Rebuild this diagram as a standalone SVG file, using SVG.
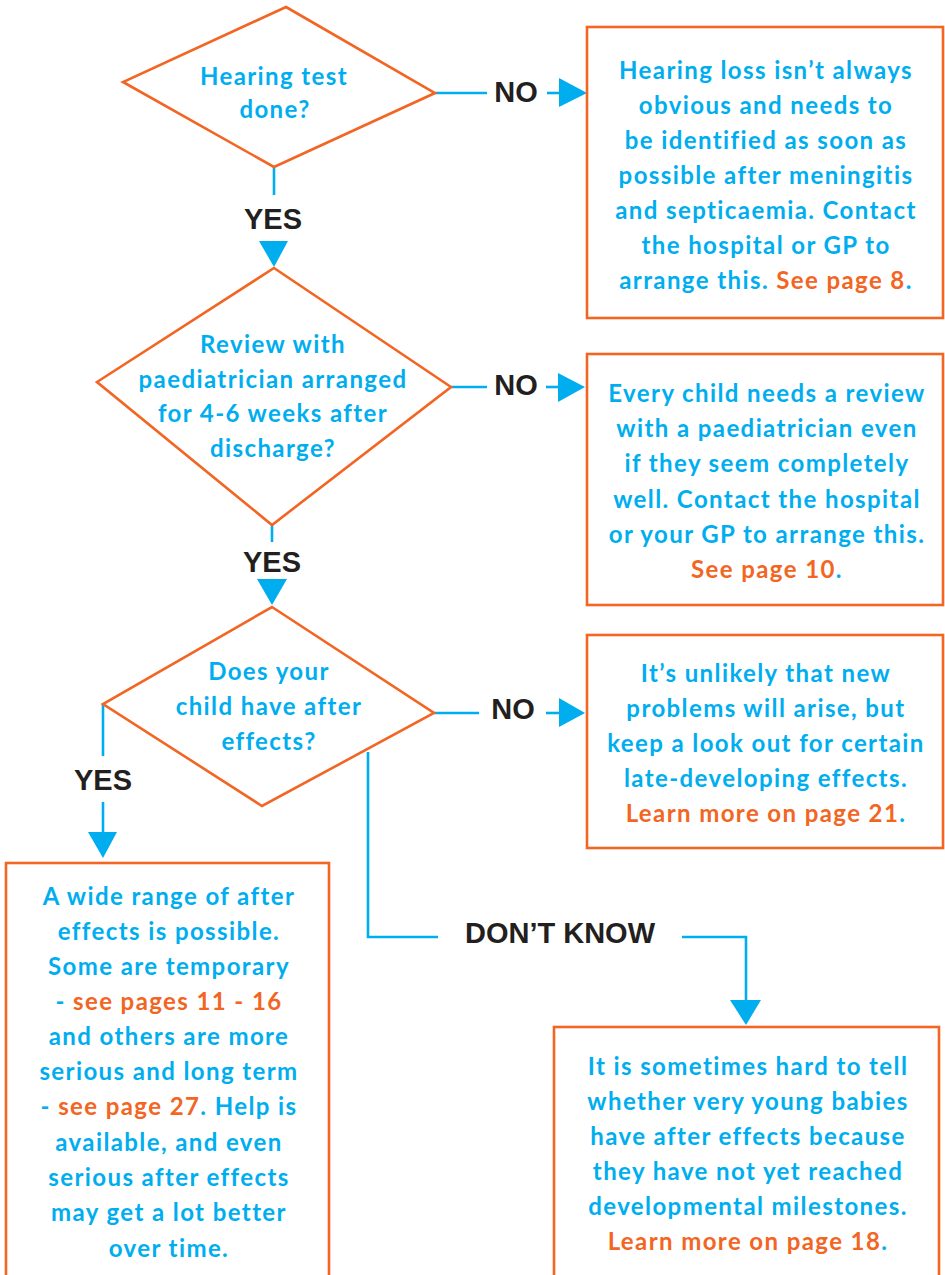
<svg xmlns="http://www.w3.org/2000/svg" width="945" height="1275" viewBox="0 0 945 1275">
<style>
.shape{fill:#fff;stroke:#F26522;stroke-width:2.6}
.con{fill:none;stroke:#00AEEF;stroke-width:2.6}
.ah{fill:#00AEEF;stroke:none}
.t{font-family:Lato,"Liberation Sans",sans-serif;font-weight:bold;font-size:24px;letter-spacing:1.4px;fill:#00AEEF;text-anchor:middle}
.o{fill:#F26522}
.lbl{font-family:"Liberation Sans",Arial,sans-serif;font-weight:bold;font-size:29px;fill:#231F20;text-anchor:middle}
</style>
<rect width="945" height="1275" fill="#fff"/>
<g id="connectors">
<line class="con" x1="435" y1="93" x2="487" y2="93"/>
<line class="con" x1="547" y1="93" x2="560" y2="93"/>
<polygon class="ah" points="559,78 587,93 559,107"/>
<line class="con" x1="274" y1="167" x2="274" y2="195"/>
<polygon class="ah" points="259,241 288,241 274,267"/>
<line class="con" x1="451" y1="387" x2="487" y2="387"/>
<line class="con" x1="546" y1="387" x2="559" y2="387"/>
<polygon class="ah" points="558,373 585,387 558,402"/>
<line class="con" x1="272" y1="525" x2="272" y2="542"/>
<polygon class="ah" points="257,579 287,579 272,605"/>
<line class="con" x1="434" y1="713" x2="479" y2="713"/>
<line class="con" x1="546" y1="713" x2="560" y2="713"/>
<polygon class="ah" points="559,698 585,713 559,727"/>
<line class="con" x1="103" y1="704" x2="103" y2="756"/>
<line class="con" x1="103" y1="802" x2="103" y2="833"/>
<polygon class="ah" points="88,832 117,832 103,858"/>
<polyline class="con" points="368,752 368,937 438,937"/>
<polyline class="con" points="682,937 746,937 746,1001"/>
<polygon class="ah" points="730,1000 761,1000 746,1025"/>
<text class="lbl" x="516" y="102">NO</text>
<text class="lbl" x="273" y="229">YES</text>
<text class="lbl" x="516" y="395">NO</text>
<text class="lbl" x="272" y="572">YES</text>
<text class="lbl" x="513" y="719">NO</text>
<text class="lbl" x="103" y="790">YES</text>
<text class="lbl" x="560" y="943">DON’T KNOW</text>
</g>
<g id="q1">
<polygon class="shape" points="286,7 435,93 274,167 123,82"/>
<text class="t" x="274" y="85">Hearing test</text>
<text class="t" x="275" y="118">done?</text>
</g>
<g id="q2">
<polygon class="shape" points="274,268 451,387 272,525 97,382"/>
<text class="t" x="273" y="353">Review with</text>
<text class="t" x="273" y="388">paediatrician arranged</text>
<text class="t" x="273" y="422">for 4-6 weeks after</text>
<text class="t" x="273" y="457">discharge?</text>
</g>
<g id="q3">
<polygon class="shape" points="272,607 434,713 262,806 103,704"/>
<text class="t" x="269" y="680">Does your</text>
<text class="t" x="269" y="715">child have after</text>
<text class="t" x="269" y="750">effects?</text>
</g>
<g id="hearing-no">
<rect class="shape" x="587" y="27" width="356" height="291"/>
<text class="t" x="766" y="79">Hearing loss isn’t always</text>
<text class="t" x="766" y="114">obvious and needs to</text>
<text class="t" x="766" y="149">be identified as soon as</text>
<text class="t" x="766" y="184">possible after meningitis</text>
<text class="t" x="766" y="219">and septicaemia. Contact</text>
<text class="t" x="766" y="254">the hospital or GP to</text>
<text class="t" x="766" y="289">arrange this. <tspan class="o">See page 8</tspan>.</text>
</g>
<g id="review-no">
<rect class="shape" x="587" y="354" width="356" height="251"/>
<text class="t" x="767" y="402">Every child needs a review</text>
<text class="t" x="767" y="437">with a paediatrician even</text>
<text class="t" x="767" y="472">if they seem completely</text>
<text class="t" x="767" y="508">well. Contact the hospital</text>
<text class="t" x="767" y="543">or your GP to arrange this.</text>
<text class="t" x="767" y="578"><tspan class="o">See page 10</tspan>.</text>
</g>
<g id="effects-no">
<rect class="shape" x="587" y="635" width="356" height="213"/>
<text class="t" x="766" y="682">It’s unlikely that new</text>
<text class="t" x="766" y="717">problems will arise, but</text>
<text class="t" x="766" y="752">keep a look out for certain</text>
<text class="t" x="766" y="787">late-developing effects.</text>
<text class="t" x="766" y="822"><tspan class="o">Learn more on page 21</tspan>.</text>
</g>
<g id="effects-yes">
<rect class="shape" x="6" y="863" width="323" height="430"/>
<text class="t" x="169" y="905">A wide range of after</text>
<text class="t" x="169" y="940">effects is possible.</text>
<text class="t" x="169" y="975">Some are temporary</text>
<text class="t" x="169" y="1010">- <tspan class="o">see pages 11 - 16</tspan></text>
<text class="t" x="169" y="1045">and others are more</text>
<text class="t" x="169" y="1080">serious and long term</text>
<text class="t" x="169" y="1115">- <tspan class="o">see page 27</tspan>. Help is</text>
<text class="t" x="169" y="1151">available, and even</text>
<text class="t" x="169" y="1186">serious after effects</text>
<text class="t" x="169" y="1221">may get a lot better</text>
<text class="t" x="169" y="1257">over time.</text>
</g>
<g id="effects-dontknow">
<rect class="shape" x="554" y="1027" width="385" height="270"/>
<text class="t" x="748" y="1075">It is sometimes hard to tell</text>
<text class="t" x="748" y="1110">whether very young babies</text>
<text class="t" x="748" y="1145">have after effects because</text>
<text class="t" x="748" y="1180">they have not yet reached</text>
<text class="t" x="748" y="1215">developmental milestones.</text>
<text class="t" x="748" y="1250"><tspan class="o">Learn more on page 18</tspan>.</text>
</g>
</svg>
